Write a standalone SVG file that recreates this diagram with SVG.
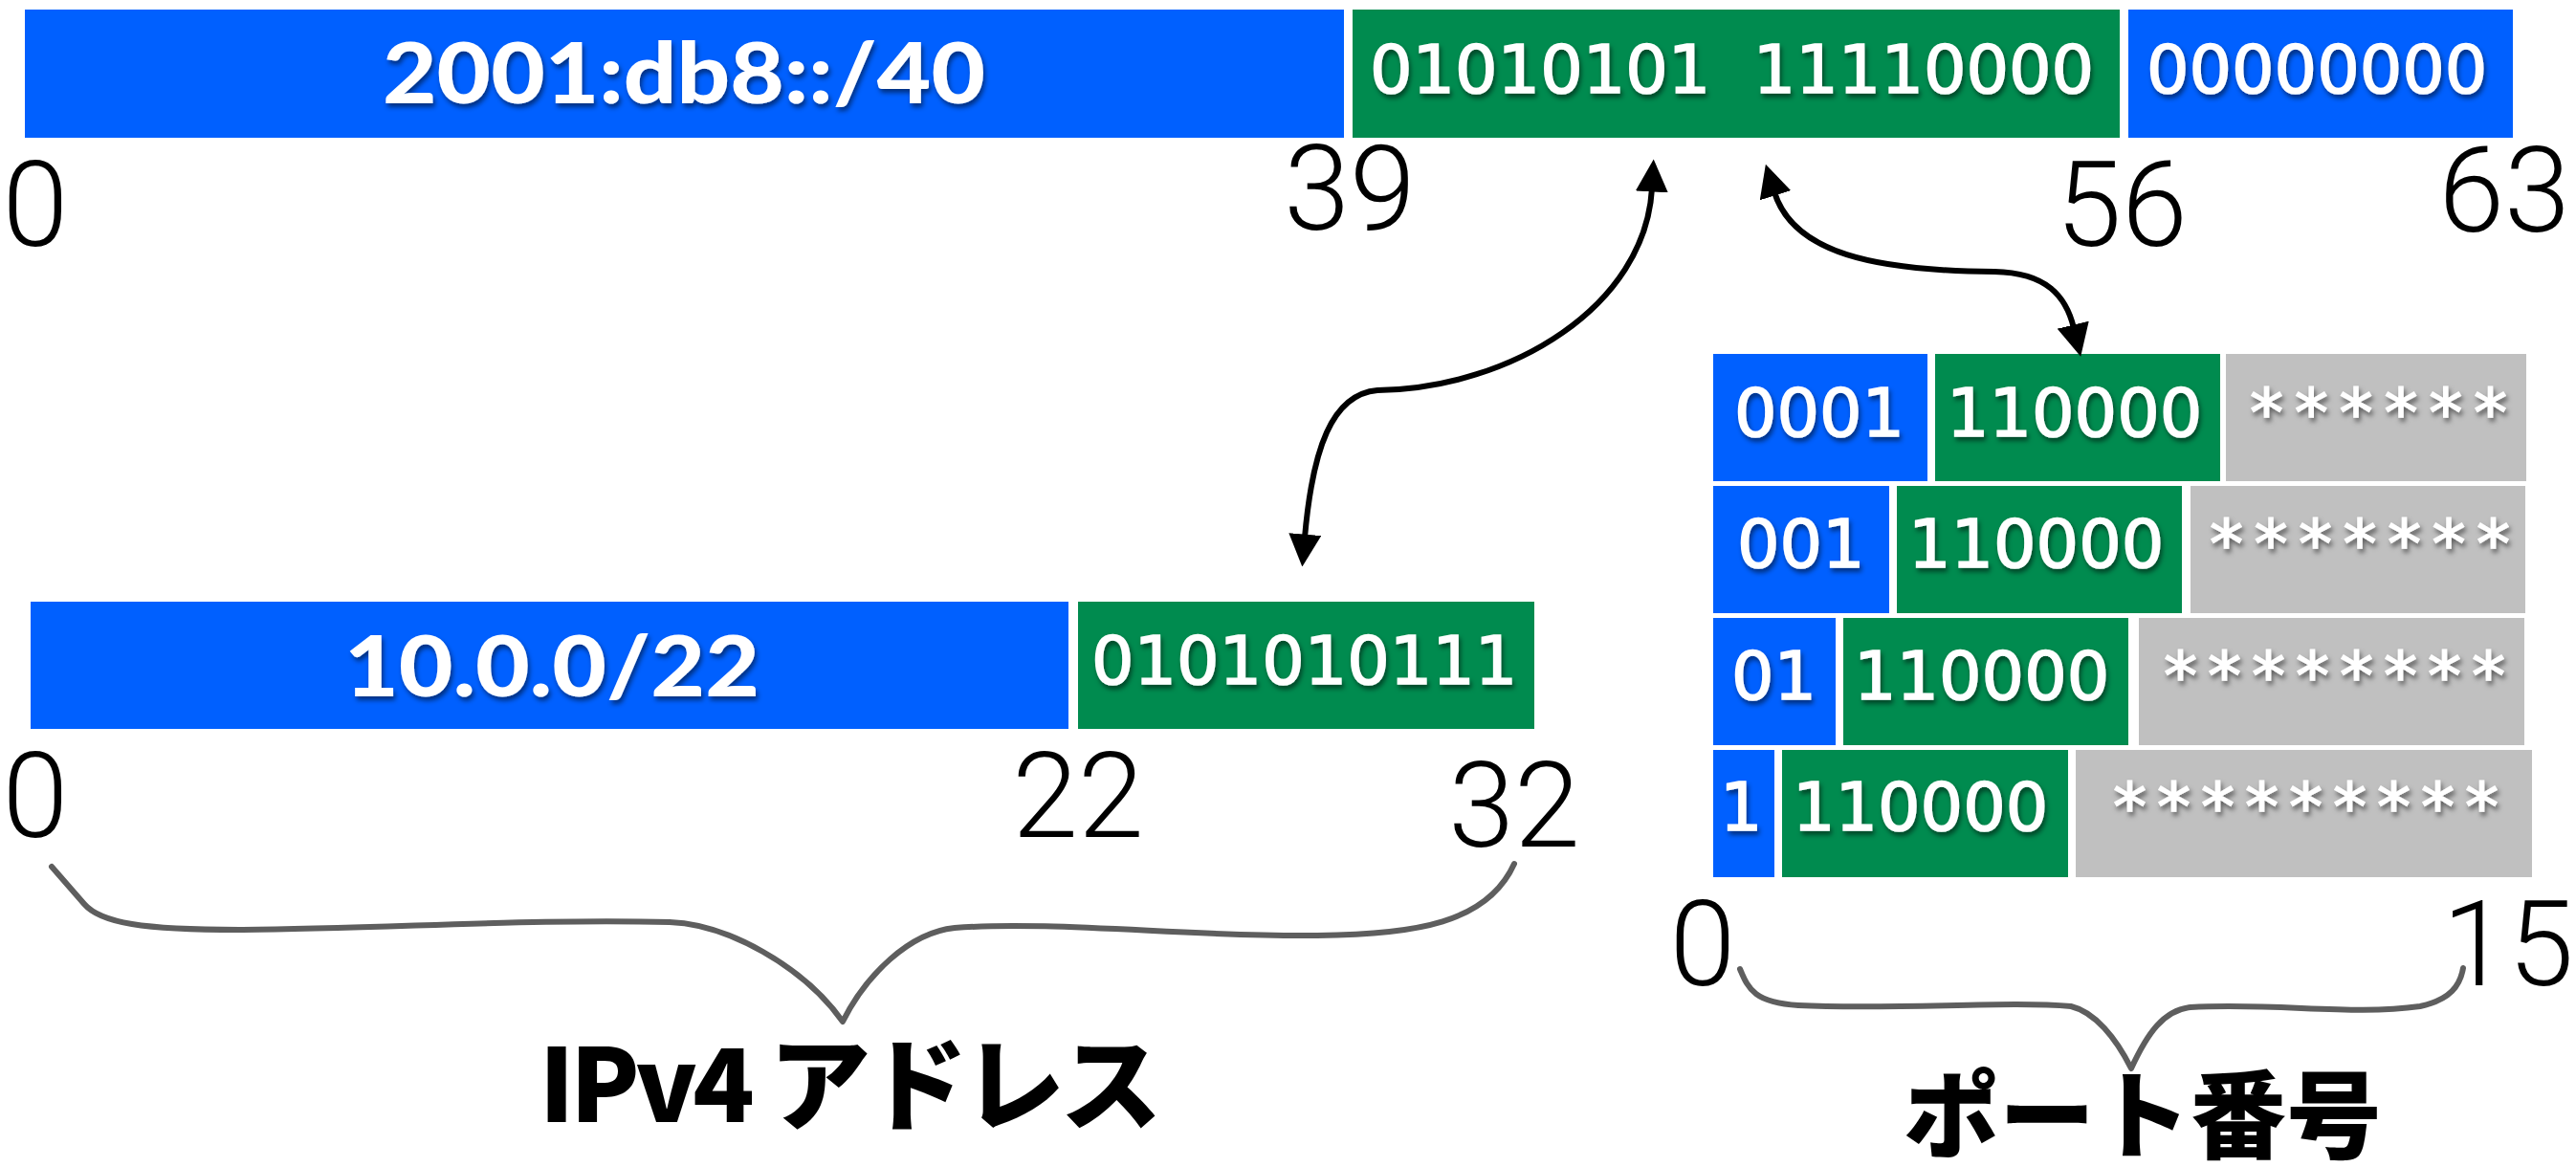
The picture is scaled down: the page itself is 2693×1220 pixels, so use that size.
<svg xmlns="http://www.w3.org/2000/svg" width="2693" height="1220" viewBox="0 0 2693 1220">
  <defs>
    <style>
      .blue { fill: #0060ff; }
      .green { fill: #008b4f; }
      .gray { fill: #c0c0c0; }
      .bits { font-family: "DejaVu Sans", Verdana, sans-serif; font-size: 70px; fill: #ffffff; stroke: #ffffff; stroke-width: 1.6; filter: url(#shadow); }
      .bold { font-family: Lato, "Liberation Sans", Arial, sans-serif; font-weight: 900; font-size: 88px; fill: #ffffff; filter: url(#shadow); }
      .num { font-family: Roboto, "Liberation Sans", sans-serif; font-weight: 300; font-size: 124px; fill: #000000; text-anchor: middle; }
      .jp { font-family: "Noto Sans CJK JP", "Noto Sans", sans-serif; font-weight: 900; fill: #000000; text-anchor: middle; }
      .brace { fill: none; stroke: #5e5e5e; stroke-width: 6; stroke-linejoin: round; stroke-linecap: round; }
      .link { fill: none; stroke: #000000; stroke-width: 6; }
    </style>
    <filter id="shadow" x="-10%" y="-30%" width="125%" height="170%">
      <feDropShadow dx="2" dy="4" stdDeviation="2.5" flood-color="#000000" flood-opacity="0.5"/>
    </filter>
    <marker id="head" viewBox="0 0 10 10" refX="1" refY="5" markerUnits="userSpaceOnUse" markerWidth="34" markerHeight="34" orient="auto-start-reverse">
      <path d="M0,0 L10,5 L0,10 z" fill="#000000"/>
    </marker>
  </defs>
  <rect width="2693" height="1220" fill="#ffffff"/>

  <!-- 64-bit IPv6 prefix bar -->
  <g id="ipv6-prefix">
    <rect class="blue" x="26" y="10" width="1379" height="134"/>
    <text class="bold" x="400" y="108" textLength="630" lengthAdjust="spacingAndGlyphs">2001:db8::/40</text>
  </g>
  <g id="ipv6-embedded">
    <rect class="green" x="1414" y="10" width="802" height="134"/>
    <text class="bits" x="1432" y="97" xml:space="preserve" style="white-space:pre">01010101  11110000</text>
  </g>
  <g id="ipv6-tail">
    <rect class="blue" x="2225" y="10" width="402" height="134"/>
    <text class="bits" x="2244" y="97">00000000</text>
  </g>
  <g id="ipv6-bits">
    <text class="num" x="37" y="257">0</text>
    <text class="num" x="1411" y="240">39</text>
    <text class="num" x="2218" y="257">56</text>
    <text class="num" x="2618" y="242">63</text>
  </g>

  <!-- 32-bit IPv4 address bar -->
  <g id="ipv4-prefix">
    <rect class="blue" x="32" y="629" width="1085" height="133"/>
    <text class="bold" x="360" y="728" textLength="434" lengthAdjust="spacingAndGlyphs">10.0.0/22</text>
  </g>
  <g id="ipv4-suffix">
    <rect class="green" x="1127" y="629" width="477" height="133"/>
    <text class="bits" x="1141" y="715">0101010111</text>
  </g>
  <g id="ipv4-bits">
    <text class="num" x="37" y="875">0</text>
    <text class="num" x="1127" y="875">22</text>
    <text class="num" x="1583" y="885">32</text>
  </g>
  <g id="ipv4-label">
    <path class="brace" d="M54 906 L88 945 C105 965 150 972 250 972 C400 971 560 960 700 964 C760 966 840 1010 881 1068 C905 1020 950 975 998 970 C1100 962 1250 980 1377 978 C1480 977 1555 965 1583 903"/>
    <text class="jp" x="889" y="1173" font-size="106" textLength="651">IPv4 アドレス</text>
  </g>

  <!-- 16-bit port number rows -->
  <g id="port-row-1">
    <rect class="blue" x="1791" y="370" width="224" height="133"/>
    <rect class="green" x="2023" y="370" width="298" height="133"/>
    <rect class="gray" x="2327" y="370" width="314" height="133"/>
    <text class="bits" x="1813" y="456">0001</text>
    <text class="bits" x="2035" y="456">110000</text>
    <text class="bits" x="2352" y="456" textLength="269">******</text>
  </g>
  <g id="port-row-2">
    <rect class="blue" x="1791" y="508" width="184" height="133"/>
    <rect class="green" x="1983" y="508" width="298" height="133"/>
    <rect class="gray" x="2290" y="508" width="350" height="133"/>
    <text class="bits" x="1816" y="593">001</text>
    <text class="bits" x="1995" y="593">110000</text>
    <text class="bits" x="2310" y="593" textLength="314">*******</text>
  </g>
  <g id="port-row-3">
    <rect class="blue" x="1791" y="646" width="128" height="133"/>
    <rect class="green" x="1927" y="646" width="298" height="133"/>
    <rect class="gray" x="2236" y="646" width="403" height="133"/>
    <text class="bits" x="1810" y="731">01</text>
    <text class="bits" x="1938" y="731">110000</text>
    <text class="bits" x="2262" y="731" textLength="357">********</text>
  </g>
  <g id="port-row-4">
    <rect class="blue" x="1791" y="784" width="64" height="133"/>
    <rect class="green" x="1863" y="784" width="299" height="133"/>
    <rect class="gray" x="2170" y="784" width="477" height="133"/>
    <text class="bits" x="1798" y="868">1</text>
    <text class="bits" x="1874" y="868">110000</text>
    <text class="bits" x="2209" y="868" textLength="403">*********</text>
  </g>
  <g id="port-bits">
    <text class="num" x="1780" y="1030">0</text>
    <text class="num" x="2622" y="1030">15</text>
  </g>
  <g id="port-label">
    <path class="brace" d="M1819 1013 C1828 1035 1835 1048 1880 1051 C1980 1056 2100 1046 2165 1052 C2190 1058 2212 1085 2228 1117 C2245 1080 2262 1056 2290 1053 C2380 1048 2460 1062 2530 1052 C2562 1045 2572 1030 2575 1012"/>
    <text class="jp" x="2240" y="1203" font-size="100">ポート番号</text>
  </g>

  <!-- connectors between the embedded bits -->
  <g id="connectors">
    <path class="link" d="M1364 562 C1372 470 1392 412 1440 408 C1580 406 1720 320 1727 197" marker-start="url(#head)" marker-end="url(#head)"/>
    <path class="link" d="M1855 201 C1875 265 1960 283 2085 284 C2140 285 2160 310 2168 343" marker-start="url(#head)" marker-end="url(#head)"/>
  </g>
</svg>
